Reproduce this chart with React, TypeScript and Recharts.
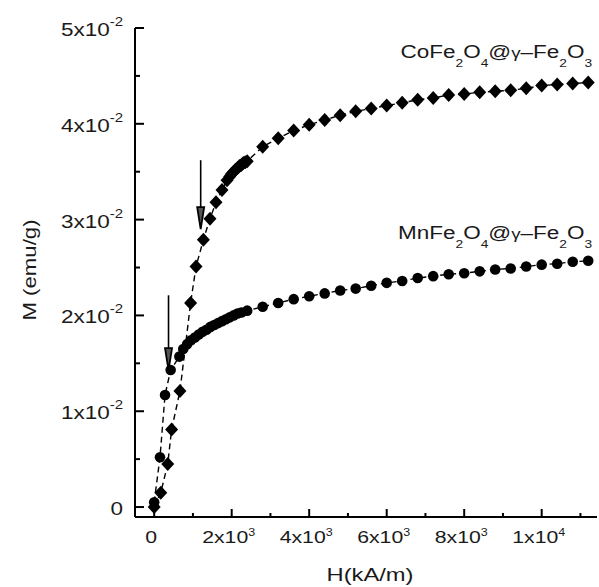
import React from "react"
import { ComposedChart, Line, XAxis, YAxis, ReferenceLine, ReferenceDot } from "recharts"

// H (kA/m) and M (emu/g)
const coH = [0, 170, 350, 450, 665, 940, 1080, 1270, 1440, 1595, 1750, 1880, 1950, 2000, 2050, 2100, 2150, 2200, 2250, 2300, 2350, 2400, 2800, 3200, 3600, 4000, 4400, 4800, 5200, 5600, 6000, 6400, 6800, 7200, 7600, 8000, 8400, 8800, 9200, 9600, 10000, 10400, 10800, 11200]
const coM = [0.0, 0.0015, 0.0045, 0.0081, 0.0121, 0.0213, 0.0251, 0.0279, 0.0301, 0.0318, 0.0331, 0.0341, 0.0345, 0.0348, 0.035, 0.0352, 0.0354, 0.0356, 0.0357, 0.0359, 0.036, 0.0361, 0.0376, 0.0385, 0.0393, 0.0399, 0.0404, 0.0409, 0.0413, 0.0416, 0.0419, 0.0422, 0.0425, 0.0427, 0.043, 0.0431, 0.0433, 0.0434, 0.0435, 0.0437, 0.044, 0.0441, 0.0442, 0.0443]

const mnH = [0, 150, 280, 425, 650, 750, 850, 950, 1050, 1150, 1250, 1350, 1450, 1550, 1650, 1750, 1850, 1950, 2050, 2150, 2250, 2400, 2800, 3200, 3600, 4000, 4400, 4800, 5200, 5600, 6000, 6400, 6800, 7200, 7600, 8000, 8400, 8800, 9200, 9600, 10000, 10400, 10800, 11200]
const mnM = [0.0005, 0.0052, 0.0117, 0.0143, 0.0157, 0.0165, 0.017, 0.0174, 0.0177, 0.018, 0.0183, 0.0185, 0.0188, 0.019, 0.0192, 0.0194, 0.0196, 0.0198, 0.02, 0.0202, 0.0203, 0.0205, 0.0209, 0.0213, 0.0217, 0.022, 0.0223, 0.0226, 0.0228, 0.0231, 0.0234, 0.0236, 0.0239, 0.0241, 0.0243, 0.0244, 0.0246, 0.0248, 0.0249, 0.0251, 0.0253, 0.0254, 0.0256, 0.0257]

const xMajor = [0, 2000, 4000, 6000, 8000, 10000]
const xMinor = [1000, 3000, 5000, 7000, 9000, 11000]
const xTickBase = ["0", "2x10", "4x10", "6x10", "8x10", "1x10"]
const xTickExp = ["", "3", "3", "3", "3", "4"]

const yMajor = [0, 0.01, 0.02, 0.03, 0.04, 0.05]
const yMinor = [0.005, 0.015, 0.025, 0.035, 0.045]
const yTickBase = ["0", "1x10", "2x10", "3x10", "4x10", "5x10"]
const yTickExp = ["", "-2", "-2", "-2", "-2", "-2"]

// arrows: [H, M top, M tip]
const arrows = [
  [1200, 0.0362, 0.029],
  [370, 0.0221, 0.0143],
]

const coData = coH.map((h, i) => ({ h, m: coM[i] }))
const mnData = mnH.map((h, i) => ({ h, m: mnM[i] }))

const FONT = "'Liberation Sans', Arial, sans-serif"
const SX = 1.25
const X_DOMAIN = [-495, 11427]
const Y_DOMAIN = [-0.00104, 0.05]

function Sci({ x, y, base, exp, anchor, size, supSize, supDy }: any) {
  return (
    <g transform={`translate(${x},${y}) scale(${SX},1)`}>
      <text x={0} y={0} textAnchor={anchor} fontSize={size} fontFamily={FONT} fill="#1a1a1a">
        {base}
        {exp ? (
          <tspan dy={supDy} fontSize={supSize}>
            {exp}
          </tspan>
        ) : null}
      </text>
    </g>
  )
}

// labels and inward tick marks, both drawn by the axis tick renderer
function XTick(props: any) {
  const { x, y, payload } = props
  const i = xMajor.indexOf(payload.value)
  const len = i < 0 ? 4 : 8
  return (
    <g>
      <path d={`M${x},${y}V${y - len}`} stroke="#000" strokeWidth={2} fill="none" />
      {i < 0 ? null : (
        <Sci x={x - 3} y={y + 26} base={xTickBase[i]} exp={xTickExp[i]} anchor="middle" size={17} supSize={10} supDy={-7} />
      )}
    </g>
  )
}

function YTick(props: any) {
  const { x, y, payload } = props
  const i = yMajor.indexOf(payload.value)
  const len = i < 0 ? 5 : 9
  return (
    <g>
      <path d={`M${x},${y}H${x + len}`} stroke="#000" strokeWidth={2} fill="none" />
      {i < 0 ? null : (
        <Sci x={x - 12} y={y + 8} base={yTickBase[i]} exp={yTickExp[i]} anchor="end" size={18} supSize={12} supDy={-10} />
      )}
    </g>
  )
}

function Diamond(p: any) {
  const { cx, cy, index } = p
  return <path key={`d${index}`} d={`M${cx},${cy - 7}L${cx + 6.5},${cy}L${cx},${cy + 7}L${cx - 6.5},${cy}Z`} fill="#000" />
}

function Dot(p: any) {
  const { cx, cy, index } = p
  return <circle key={`c${index}`} cx={cx} cy={cy} r={5.3} fill="#000" />
}

function Arrow(p: any) {
  const { x1, y1, y2 } = p
  const top = Math.min(y1, y2)
  const tip = Math.max(y1, y2)
  const x = x1
  return (
    <g>
      <line x1={x} x2={x} y1={top} y2={tip - 4} stroke="#000" strokeWidth={1.6} />
      <path d={`M${x - 3.5},${tip - 22}L${x},${tip}L${x + 3.5},${tip - 22}Z`} fill="#555" stroke="#000" strokeWidth={1.8} />
    </g>
  )
}

function SeriesLabel({ x, y, name }: any) {
  return (
    <g transform={`translate(${x},${y}) scale(${SX},1)`}>
      <text x={0} y={0} textAnchor="end" fontSize={18} fontFamily={FONT} fill="#1a1a1a">
        {name}Fe<tspan dy={9} fontSize={11}>2</tspan>
        <tspan dy={-9}>O</tspan>
        <tspan dy={9} fontSize={11}>4</tspan>
        <tspan dy={-9}>@</tspan>
        <tspan fontSize={15}>γ</tspan>
        <tspan>–Fe</tspan>
        <tspan dy={9} fontSize={11}>2</tspan>
        <tspan dy={-9}>O</tspan>
        <tspan dy={9} fontSize={11}>3</tspan>
      </text>
    </g>
  )
}

export default function App() {
  return (
    <div style={{ position: "absolute", left: 0, top: 0, width: 599, height: 587, background: "#fff" }}>
      <ComposedChart width={599} height={587} margin={{ top: 28, right: 2, bottom: 0, left: 0 }}>
        <XAxis
          dataKey="h"
          type="number"
          domain={X_DOMAIN}
          allowDataOverflow
          ticks={[...xMajor, ...xMinor]}
          interval={0}
          height={70}
          tickSize={0}
          tickMargin={0}
          tickLine={false}
          axisLine={{ stroke: "#000", strokeWidth: 2 }}
          tick={<XTick />}
          label={{
            content: (lp: any) => {
              const vb = lp.viewBox
              return <Sci x={vb.x + vb.width / 2 + 4} y={581} base="H(kA/m)" anchor="middle" size={19} />
            },
          }}
        />
        <XAxis
          xAxisId="top"
          orientation="top"
          type="number"
          domain={X_DOMAIN}
          allowDataOverflow
          height={0}
          tick={false}
          tickLine={false}
          axisLine={{ stroke: "#000", strokeWidth: 2 }}
        />
        <YAxis
          type="number"
          domain={Y_DOMAIN}
          allowDataOverflow
          ticks={[...yMajor, ...yMinor]}
          interval={0}
          width={135}
          tickSize={0}
          tickMargin={0}
          tickLine={false}
          axisLine={{ stroke: "#000", strokeWidth: 2 }}
          tick={<YTick />}
          label={{
            content: () => (
              <g transform="translate(36,270) rotate(-90) scale(1.2,1)">
                <text x={0} y={0} textAnchor="middle" fontSize={18.5} fontFamily={FONT} fill="#1a1a1a">
                  M (emu/g)
                </text>
              </g>
            ),
          }}
        />
        <YAxis
          yAxisId="right"
          orientation="right"
          type="number"
          domain={Y_DOMAIN}
          allowDataOverflow
          width={0}
          tick={false}
          tickLine={false}
          axisLine={{ stroke: "#888", strokeWidth: 1 }}
        />
        <Line data={coData} dataKey="m" type="linear" stroke="#000" strokeWidth={1.4} strokeDasharray="6 4" dot={Diamond} activeDot={false} isAnimationActive={false} />
        <Line data={mnData} dataKey="m" type="linear" stroke="#000" strokeWidth={1.4} strokeDasharray="6 4" dot={Dot} activeDot={false} isAnimationActive={false} />
        {arrows.map((a, i) => (
          <ReferenceLine
            key={`a${i}`}
            segment={[
              { x: a[0], y: a[1] },
              { x: a[0], y: a[2] },
            ]}
            shape={Arrow}
          />
        ))}
        <ReferenceDot x={11300} y={0.0469} r={0} shape={(p: any) => <SeriesLabel x={p.cx} y={p.cy} name="Co" />} />
        <ReferenceDot x={11300} y={0.028} r={0} shape={(p: any) => <SeriesLabel x={p.cx} y={p.cy} name="Mn" />} />
      </ComposedChart>
    </div>
  )
}
